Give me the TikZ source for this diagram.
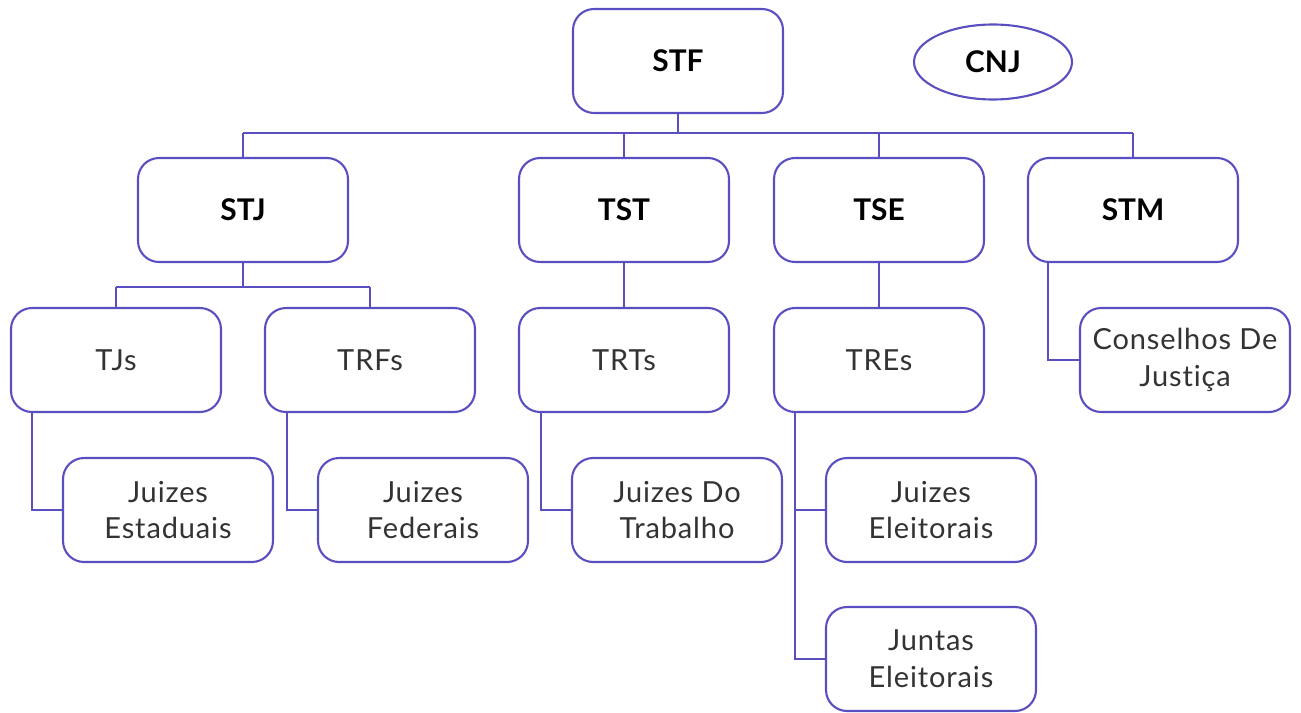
\documentclass[tikz,border=0pt]{standalone}
\usepackage{fontspec}
\setmainfont{Lato}
\newfontfamily\corpo[LetterSpace=3,Ligatures=NoCommon]{Lato}
\usetikzlibrary{calc,positioning,shapes}
\definecolor{linha}{HTML}{5A4FC0}
\definecolor{texto}{HTML}{333333}

\begin{document}
\begin{tikzpicture}[x=0.02cm, y=-0.02cm,
  caixa/.style={draw=linha,line width=1.2pt,rounded corners=0.42cm,fill=white,minimum width=4.2cm,minimum height=2.08cm,align=center,text=texto,font=\corpo\fontsize{16.5}{21}\selectfont},
  topo/.style={caixa,text=black,font=\fontsize{17}{21}\selectfont\bfseries},
  liga/.style={draw=linha,line width=1.6pt}]
  \useasboundingbox (0,0) rectangle (1301,713);

  % conexoes
  \coordinate (h0) at (678,133);
  \coordinate (h1) at (243,133);
  \coordinate (h4) at (1133,133);
  \coordinate (s0) at (116,287);
  \coordinate (s1) at (370,287);
  \draw[liga] (678,112) -- (h0);
  \draw[liga] (h1) -- (h4);
  \draw[liga] (h1) -- (243,160);
  \draw[liga] (624,133) -- (624,160);
  \draw[liga] (879,133) -- (879,160);
  \draw[liga] (h4) -- (1133,160);
  \draw[liga] (243,262) -- (243,287);
  \draw[liga] (s0) -- (s1);
  \draw[liga] (s0) -- (116,310);
  \draw[liga] (s1) -- (370,310);
  \draw[liga] (624,262) -- (624,310);
  \draw[liga] (879,262) -- (879,310);

  \node[topo] (stf) at (678,61) {STF};
  \node[ellipse,draw=linha,line width=1.2pt,minimum width=3.16cm,minimum height=1.5cm,font=\fontsize{17}{21}\selectfont\bfseries] (cnj) at (993,62) {CNJ};

  \node[topo] (stj) at (243,210) {STJ};
  \node[topo] (tst) at (624,210) {TST};
  \node[topo] (tse) at (879,210) {TSE};
  \node[topo] (stm) at (1133,210) {STM};

  \node[caixa] (tjs) at (116,360) {TJs};
  \node[caixa] (trfs) at (370,360) {TRFs};
  \node[caixa] (trts) at (624,360) {TRTs};
  \node[caixa] (tres) at (879,360) {TREs};
  \node[caixa] (cons) at (1185,360) {Conselhos De\\Justiça};

  \node[caixa] (jest) at (168,510) {Juizes\\Estaduais};
  \node[caixa] (jfed) at (423,510) {Juizes\\Federais};
  \node[caixa] (jtrab) at (677,510) {Juizes Do\\Trabalho};
  \node[caixa] (jele) at (931,510) {Juizes\\Eleitorais};
  \node[caixa] (jun) at (931,659) {Juntas\\Eleitorais};

  \draw[liga] (stm.south -| 1048,0) |- (cons.west);
  \draw[liga] (tjs.south -| 32,0) |- (jest.west);
  \draw[liga] (trfs.south -| 287,0) |- (jfed.west);
  \draw[liga] (trts.south -| 541,0) |- (jtrab.west);
  \draw[liga] (tres.south -| 795,0) |- (jun.west);
  \draw[liga] (jele.west -| 795,0) -- (jele.west);
\end{tikzpicture}
\end{document}
